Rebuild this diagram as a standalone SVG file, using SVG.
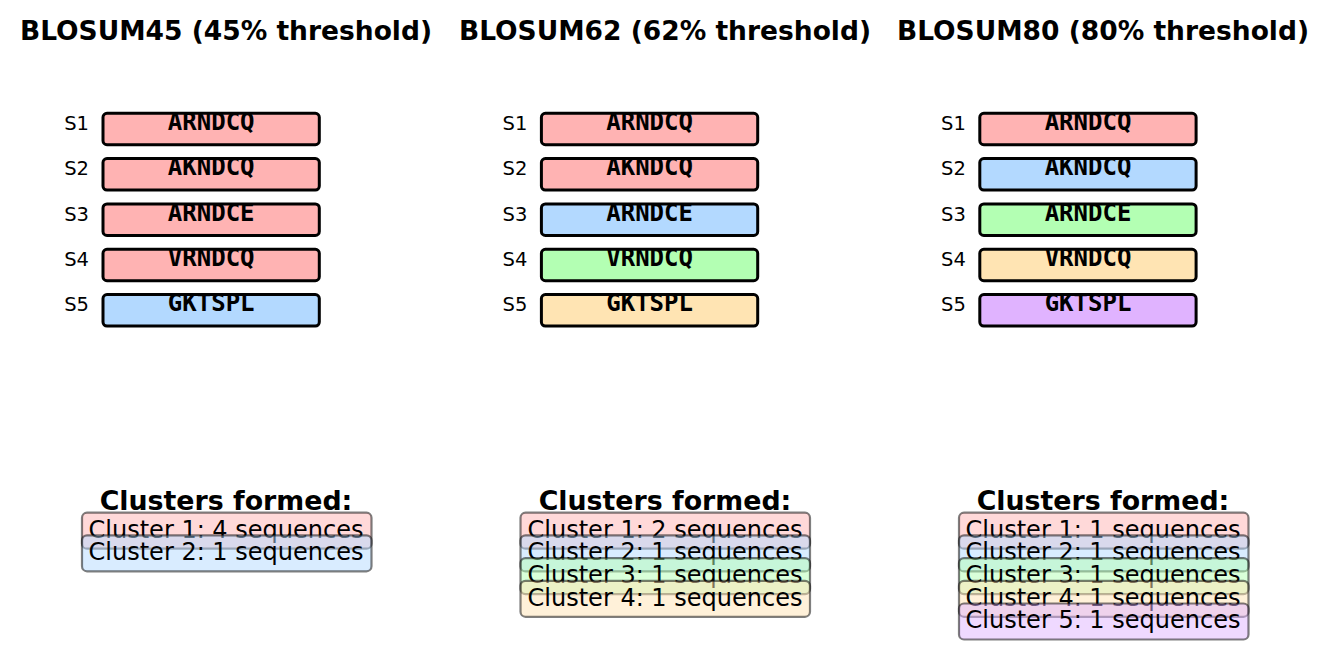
<svg xmlns="http://www.w3.org/2000/svg" width="1329" height="653" viewBox="0 0 1329 653">
<style>
.title{font-family:"DejaVu Sans",sans-serif;font-weight:bold;font-size:26.5px;text-anchor:middle;fill:#000}
.ctitle{font-family:"DejaVu Sans",sans-serif;font-weight:bold;font-size:26.8px;text-anchor:middle;fill:#000}
.lbl{font-family:"DejaVu Sans",sans-serif;font-size:19.5px;text-anchor:end;fill:#000}
.seq{font-family:"DejaVu Sans Mono",monospace;font-weight:bold;font-size:24px;text-anchor:middle;fill:#000}
.sbox{stroke:#000;stroke-width:3}
.cbox{stroke:#000;stroke-opacity:0.5;stroke-width:2.2;fill-opacity:0.5}
.ctext{font-family:"DejaVu Sans",sans-serif;font-size:24px;text-anchor:middle;fill:#000}
.pk{fill:#ffb3b3}.bl{fill:#b3d9ff}.gr{fill:#b3ffb3}.or{fill:#ffe4b3}.pu{fill:#e0b3ff}
</style>
<rect width="1329" height="653" fill="#fff"/>
<g id="titles">
<text class="title" x="226" y="39.5">BLOSUM45 (45% threshold)</text>
<text class="title" x="665" y="39.5">BLOSUM62 (62% threshold)</text>
<text class="title" x="1103" y="39.5">BLOSUM80 (80% threshold)</text>
</g>
<g id="connectors"></g>
<!-- column 1 -->
<g id="c1-s1"><text class="lbl" x="89" y="130">S1</text><rect class="sbox pk" x="103" y="113.3" width="216.3" height="31.4" rx="4"/><text class="seq" x="211.2" y="130">ARNDCQ</text></g>
<g id="c1-s2"><text class="lbl" x="89" y="175.3">S2</text><rect class="sbox pk" x="103" y="158.6" width="216.3" height="31.4" rx="4"/><text class="seq" x="211.2" y="175.3">AKNDCQ</text></g>
<g id="c1-s3"><text class="lbl" x="89" y="220.7">S3</text><rect class="sbox pk" x="103" y="204" width="216.3" height="31.4" rx="4"/><text class="seq" x="211.2" y="220.7">ARNDCE</text></g>
<g id="c1-s4"><text class="lbl" x="89" y="266">S4</text><rect class="sbox pk" x="103" y="249.3" width="216.3" height="31.4" rx="4"/><text class="seq" x="211.2" y="266">VRNDCQ</text></g>
<g id="c1-s5"><text class="lbl" x="89" y="311.3">S5</text><rect class="sbox bl" x="103" y="294.6" width="216.3" height="31.4" rx="4"/><text class="seq" x="211.2" y="311.3">GKTSPL</text></g>
<!-- column 2 -->
<g id="c2-s1"><text class="lbl" x="527.4" y="130">S1</text><rect class="sbox pk" x="541.4" y="113.3" width="216.3" height="31.4" rx="4"/><text class="seq" x="649.6" y="130">ARNDCQ</text></g>
<g id="c2-s2"><text class="lbl" x="527.4" y="175.3">S2</text><rect class="sbox pk" x="541.4" y="158.6" width="216.3" height="31.4" rx="4"/><text class="seq" x="649.6" y="175.3">AKNDCQ</text></g>
<g id="c2-s3"><text class="lbl" x="527.4" y="220.7">S3</text><rect class="sbox bl" x="541.4" y="204" width="216.3" height="31.4" rx="4"/><text class="seq" x="649.6" y="220.7">ARNDCE</text></g>
<g id="c2-s4"><text class="lbl" x="527.4" y="266">S4</text><rect class="sbox gr" x="541.4" y="249.3" width="216.3" height="31.4" rx="4"/><text class="seq" x="649.6" y="266">VRNDCQ</text></g>
<g id="c2-s5"><text class="lbl" x="527.4" y="311.3">S5</text><rect class="sbox or" x="541.4" y="294.6" width="216.3" height="31.4" rx="4"/><text class="seq" x="649.6" y="311.3">GKTSPL</text></g>
<!-- column 3 -->
<g id="c3-s1"><text class="lbl" x="965.8" y="130">S1</text><rect class="sbox pk" x="979.8" y="113.3" width="216.3" height="31.4" rx="4"/><text class="seq" x="1088" y="130">ARNDCQ</text></g>
<g id="c3-s2"><text class="lbl" x="965.8" y="175.3">S2</text><rect class="sbox bl" x="979.8" y="158.6" width="216.3" height="31.4" rx="4"/><text class="seq" x="1088" y="175.3">AKNDCQ</text></g>
<g id="c3-s3"><text class="lbl" x="965.8" y="220.7">S3</text><rect class="sbox gr" x="979.8" y="204" width="216.3" height="31.4" rx="4"/><text class="seq" x="1088" y="220.7">ARNDCE</text></g>
<g id="c3-s4"><text class="lbl" x="965.8" y="266">S4</text><rect class="sbox or" x="979.8" y="249.3" width="216.3" height="31.4" rx="4"/><text class="seq" x="1088" y="266">VRNDCQ</text></g>
<g id="c3-s5"><text class="lbl" x="965.8" y="311.3">S5</text><rect class="sbox pu" x="979.8" y="294.6" width="216.3" height="31.4" rx="4"/><text class="seq" x="1088" y="311.3">GKTSPL</text></g>
<!-- clusters column 1 -->
<g id="c1-clusters">
<text class="ctitle" x="226" y="510">Clusters formed:</text>
<rect class="cbox pk" x="82" y="512.7" width="289.5" height="36" rx="5"/><text class="ctext" x="226" y="537.5">Cluster 1: 4 sequences</text>
<rect class="cbox bl" x="82" y="535.3" width="289.5" height="36" rx="5"/><text class="ctext" x="226" y="560">Cluster 2: 1 sequences</text>
</g>
<g id="c2-clusters">
<text class="ctitle" x="665" y="510">Clusters formed:</text>
<rect class="cbox pk" x="520.5" y="512.7" width="289.5" height="36" rx="5"/><text class="ctext" x="665" y="537.5">Cluster 1: 2 sequences</text>
<rect class="cbox bl" x="520.5" y="535.4" width="289.5" height="36" rx="5"/><text class="ctext" x="665" y="560.2">Cluster 2: 1 sequences</text>
<rect class="cbox gr" x="520.5" y="558.1" width="289.5" height="36" rx="5"/><text class="ctext" x="665" y="582.9">Cluster 3: 1 sequences</text>
<rect class="cbox or" x="520.5" y="580.8" width="289.5" height="36" rx="5"/><text class="ctext" x="665" y="605.6">Cluster 4: 1 sequences</text>
</g>
<g id="c3-clusters">
<text class="ctitle" x="1103" y="510">Clusters formed:</text>
<rect class="cbox pk" x="959" y="512.7" width="289.5" height="36" rx="5"/><text class="ctext" x="1103" y="537.5">Cluster 1: 1 sequences</text>
<rect class="cbox bl" x="959" y="535.4" width="289.5" height="36" rx="5"/><text class="ctext" x="1103" y="560.2">Cluster 2: 1 sequences</text>
<rect class="cbox gr" x="959" y="558.1" width="289.5" height="36" rx="5"/><text class="ctext" x="1103" y="582.9">Cluster 3: 1 sequences</text>
<rect class="cbox or" x="959" y="580.8" width="289.5" height="36" rx="5"/><text class="ctext" x="1103" y="605.6">Cluster 4: 1 sequences</text>
<rect class="cbox pu" x="959" y="603.5" width="289.5" height="36" rx="5"/><text class="ctext" x="1103" y="628.3">Cluster 5: 1 sequences</text>
</g>
</svg>
